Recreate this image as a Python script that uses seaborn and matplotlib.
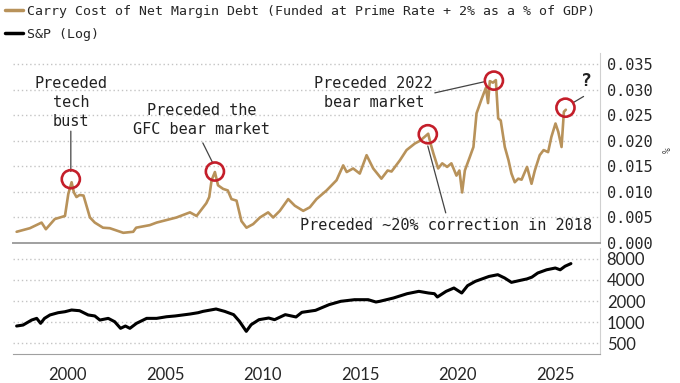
import matplotlib
matplotlib.use("Agg")
import matplotlib.pyplot as plt
import matplotlib.ticker as mticker
from matplotlib.lines import Line2D
import seaborn as sns


# Carry cost of net margin debt (% of GDP)
cc_years = [1997.37, 1998.05, 1998.65, 1998.87, 1999.33, 1999.68, 1999.85, 2000.02, 2000.19, 2000.31,
            2000.44, 2000.6, 2000.8, 2001.13, 2001.38, 2001.8, 2002.15, 2002.84, 2003.35, 2003.5,
            2004.2, 2004.55, 2005.06, 2005.57, 2006.26, 2006.6, 2006.94, 2007.1, 2007.25, 2007.37,
            2007.54, 2007.7, 2007.96, 2008.2, 2008.39, 2008.65, 2008.9, 2009.16, 2009.5, 2009.85,
            2010.27, 2010.53, 2010.87, 2011.3, 2011.64, 2012.07, 2012.41, 2012.75, 2013.27, 2013.78,
            2014.12, 2014.3, 2014.63, 2014.97, 2015.32, 2015.66, 2016.08, 2016.4, 2016.6, 2017.03,
            2017.37, 2017.8, 2018.05, 2018.3, 2018.48, 2018.6, 2018.75, 2018.99, 2019.2, 2019.45,
            2019.67, 2019.93, 2020.08, 2020.22, 2020.36, 2020.62, 2020.8, 2020.96, 2021.21, 2021.44,
            2021.55, 2021.64, 2021.8, 2021.95, 2022.07, 2022.2, 2022.41, 2022.6, 2022.75, 2022.92,
            2023.1, 2023.27, 2023.55, 2023.78, 2023.95, 2024.2, 2024.4, 2024.63, 2024.8, 2025.01,
            2025.15, 2025.32, 2025.44, 2025.54]
cc_vals = [0.0022, 0.0029, 0.0040, 0.0027, 0.0047, 0.0051, 0.0053, 0.0096, 0.0119, 0.0099,
           0.0090, 0.0094, 0.0093, 0.0050, 0.0040, 0.0030, 0.0029, 0.0020, 0.0022, 0.0030,
           0.0035, 0.0040, 0.0045, 0.0050, 0.0060, 0.0053, 0.0070, 0.0078, 0.0090, 0.0123,
           0.0139, 0.0113, 0.0106, 0.0103, 0.0086, 0.0083, 0.0043, 0.0030, 0.0037, 0.0050,
           0.0060, 0.0050, 0.0063, 0.0086, 0.0073, 0.0063, 0.0070, 0.0086, 0.0103, 0.0123,
           0.0152, 0.0139, 0.0146, 0.0136, 0.0172, 0.0146, 0.0126, 0.0142, 0.0140, 0.0162,
           0.0182, 0.0195, 0.0200, 0.0208, 0.0214, 0.0195, 0.0175, 0.0146, 0.0156, 0.0149,
           0.0156, 0.0132, 0.0142, 0.0099, 0.0142, 0.0169, 0.0188, 0.0254, 0.0281, 0.0304,
           0.0274, 0.0317, 0.0314, 0.0319, 0.0244, 0.0240, 0.0188, 0.0162, 0.0136, 0.0119,
           0.0126, 0.0124, 0.0149, 0.0116, 0.0142, 0.0172, 0.0182, 0.0178, 0.0208, 0.0234,
           0.0218, 0.0188, 0.0257, 0.0261]

# S&P 500 level
spx_years = [1997.37, 1997.7, 1998.14, 1998.4, 1998.6, 1998.8, 1999.08, 1999.5, 1999.85, 2000.19,
             2000.6, 2001.04, 2001.38, 2001.64, 2002.07, 2002.4, 2002.7, 2002.95, 2003.18, 2003.52,
             2004.04, 2004.55, 2005.06, 2005.5, 2006.26, 2006.68, 2006.93, 2007.6, 2008.04, 2008.5,
             2008.8, 2009.15, 2009.4, 2009.8, 2010.3, 2010.6, 2011.15, 2011.7, 2012.0, 2012.7,
             2013.4, 2014.0, 2014.7, 2015.4, 2015.8, 2016.0, 2016.7, 2017.4, 2018.0, 2018.5,
             2018.8, 2018.95, 2019.4, 2019.8, 2020.2, 2020.5, 2020.9, 2021.6, 2022.05, 2022.4,
             2022.75, 2023.2, 2023.55, 2023.8, 2024.1, 2024.55, 2025.0, 2025.25, 2025.5, 2025.8]
spx_vals = [876, 905, 1067, 1128, 958, 1128, 1262, 1360, 1405, 1486,
            1452, 1262, 1221, 1067, 1128, 1010, 812, 876, 812, 958,
            1128, 1128, 1190, 1221, 1301, 1360, 1421, 1536, 1421, 1275,
            1022, 735, 916, 1080, 1141, 1080, 1275, 1181, 1376, 1470,
            1775, 1981, 2089, 2089, 1935, 1981, 2209, 2546, 2752, 2603,
            2546, 2282, 2752, 3072, 2603, 3318, 3829, 4500, 4765, 4275,
            3700, 3950, 4150, 4400, 5040, 5600, 5940, 5600, 6300, 6870]

# highlighted peaks (circles)
peak_years = [2000.15, 2007.54, 2018.46, 2021.85, 2025.52]
peak_vals = [0.0125, 0.0140, 0.0213, 0.0318, 0.0265]

cc_label = "Carry Cost of Net Margin Debt (Funded at Prime Rate + 2% as a % of GDP)"
spx_label = "S&P (Log)"
cc_color = "#b8925a"
circle_color = "#c41e2a"
grid_color = "#c4c4c4"
spine_color = "#a0a0a0"

sns.set_style("white")
plt.rcParams["font.family"] = ["DejaVu Sans Mono", "DejaVu Sans"]
mono = "DejaVu Sans Mono"
sans = "Lato"

fig = plt.figure(figsize=(6.8, 3.83), dpi=100)
ax1 = fig.add_axes([0.019, 0.3655, 0.863, 0.496])
ax2 = fig.add_axes([0.019, 0.0757, 0.863, 0.2768])

# top panel: carry cost
sns.lineplot(x=cc_years, y=cc_vals, ax=ax1, color=cc_color, linewidth=1.9)
sns.scatterplot(x=peak_years, y=peak_vals, ax=ax1, s=170, facecolor="none",
                edgecolor=circle_color, linewidth=1.9, zorder=5)
ax1.set_xlim(1997.18, 2027.28)
ax1.set_ylim(0, 0.0372)
ax1.yaxis.tick_right()
ax1.set_yticks([0.0, 0.005, 0.01, 0.015, 0.02, 0.025, 0.03, 0.035])
ax1.yaxis.set_major_formatter(mticker.FormatStrFormatter("%.3f"))
ax1.tick_params(axis="y", length=0, pad=5, labelsize=11)
for lab in ax1.get_yticklabels():
    lab.set_family(mono)
ax1.set_xticks([])
for y in [0.005, 0.01, 0.015, 0.02, 0.025, 0.03, 0.035]:
    ax1.axhline(y, color=grid_color, linewidth=1, linestyle=(0, (1, 2)), zorder=0)
for s in ["top", "left"]:
    ax1.spines[s].set_visible(False)
ax1.spines["bottom"].set_color(spine_color)
ax1.spines["bottom"].set_linewidth(1.4)
ax1.spines["right"].set_color("#d0d0d0")

# annotations
txt_kw = dict(fontsize=11, family=mono, color="#222222", ha="center", va="center", linespacing=1.3)
line_kw = dict(arrowstyle="-", color="#444444", linewidth=0.9, shrinkA=0, shrinkB=0)
ax1.text(2000.15, 0.0275, "Preceded\ntech\nbust", **txt_kw)
ax1.annotate("", xy=(2000.15, 0.0140), xytext=(2000.15, 0.0219), arrowprops=line_kw)
ax1.text(2006.87, 0.0241, "Preceded the\nGFC bear market", **txt_kw)
ax1.annotate("", xy=(2007.44, 0.0156), xytext=(2006.92, 0.0196), arrowprops=line_kw)
ax1.text(2015.69, 0.0294, "Preceded 2022\nbear market", **txt_kw)
ax1.annotate("", xy=(2021.38, 0.0316), xytext=(2018.82, 0.0294), arrowprops=line_kw)
ax1.text(2019.38, 0.0034, "Preceded ~20% correction in 2018", **txt_kw)
ax1.annotate("", xy=(2018.46, 0.0190), xytext=(2019.38, 0.0059), arrowprops=line_kw)
ax1.text(2026.6, 0.0318, "?", fontsize=13, fontweight="bold", family=mono,
         color="#222222", ha="center", va="center")
ax1.annotate("", xy=(2026.45, 0.0287), xytext=(2025.92, 0.0275), arrowprops=line_kw)

fig.text(668 / 680, 1 - 150 / 383, "%", rotation=90, fontsize=7, family=mono,
         color="#444444", ha="center", va="center")

# bottom panel: S&P (log)
sns.lineplot(x=spx_years, y=spx_vals, ax=ax2, color="black", linewidth=2.2)
ax2.set_yscale("log")
ax2.set_xlim(1997.18, 2027.28)
ax2.set_ylim(348, 11500)
ax2.yaxis.tick_right()
ax2.yaxis.set_major_locator(mticker.FixedLocator([500, 1000, 2000, 4000, 8000]))
ax2.yaxis.set_major_formatter(mticker.FixedFormatter(["500", "1000", "2000", "4000", "8000"]))
ax2.yaxis.set_minor_locator(mticker.NullLocator())
ax2.tick_params(axis="y", length=0, pad=5, labelsize=12)
ax2.set_xticks([2000, 2005, 2010, 2015, 2020, 2025])
ax2.set_xticklabels(["2000", "2005", "2010", "2015", "2020", "2025"])
ax2.tick_params(axis="x", length=4, width=0.8, color=spine_color, pad=5, labelsize=12)
for lab in ax2.get_xticklabels() + ax2.get_yticklabels():
    lab.set_family(sans)
for y in [500, 1000, 2000, 4000, 8000]:
    ax2.axhline(y, color=grid_color, linewidth=1, linestyle=(0, (1, 2)), zorder=0)
for s in ["top", "left"]:
    ax2.spines[s].set_visible(False)
ax2.spines["bottom"].set_color(spine_color)
ax2.spines["right"].set_color("#d0d0d0")
ax2.set_xlabel("")
ax2.set_ylabel("")

# legend
handles = [Line2D([], [], color=cc_color, linewidth=2.5),
           Line2D([], [], color="black", linewidth=2.5)]
fig.legend(handles, [cc_label, spx_label], loc="upper left", bbox_to_anchor=(0.0, 1.0),
           frameon=False, handlelength=1.4, handletextpad=0.3,
           labelspacing=0.75, borderpad=0.35, borderaxespad=0.0, prop={"family": mono, "size": 9.5})

fig.savefig("out.png", dpi=100, facecolor="white")
